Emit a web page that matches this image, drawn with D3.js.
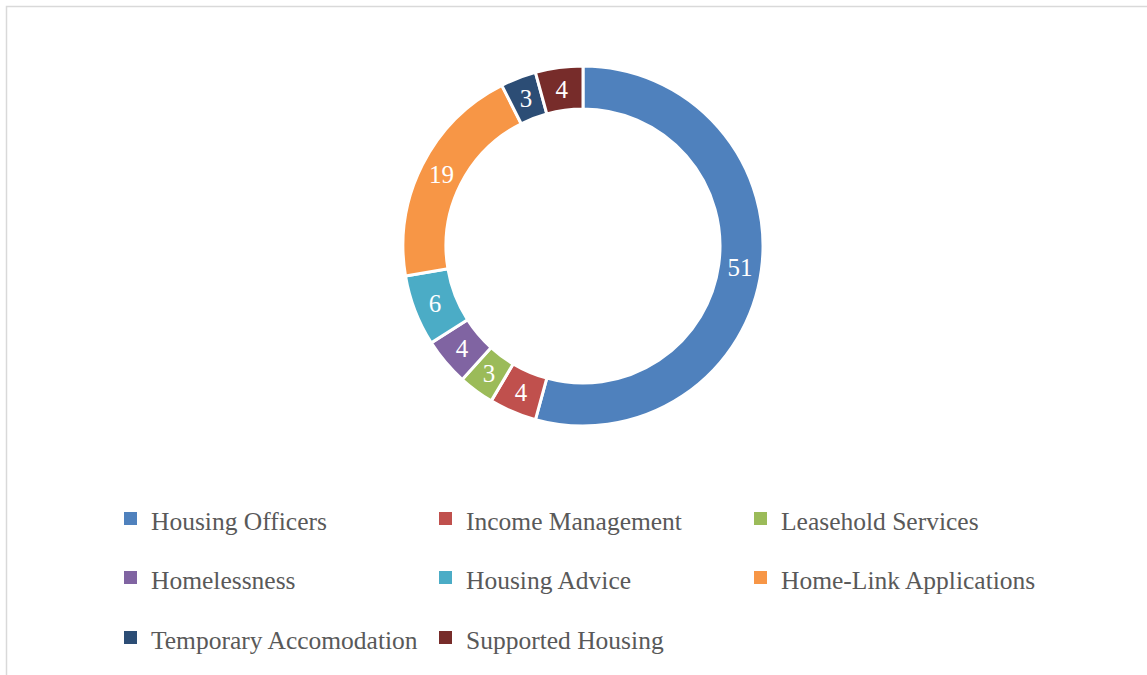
<!DOCTYPE html>
<html>
<head>
<meta charset="utf-8">
<script src="https://cdn.jsdelivr.net/npm/d3@7"></script>
<style>
  html, body { margin: 0; padding: 0; background: #fff; overflow: hidden; }
  svg { display: block; }
</style>
</head>
<body>
<svg id="chart" width="1147" height="675"></svg>
<script>
// categories and values
const categories = ['Housing Officers', 'Income Management', 'Leasehold Services',
    'Homelessness', 'Housing Advice', 'Home-Link Applications',
    'Temporary Accomodation', 'Supported Housing'];
const values = [51, 4, 3, 4, 6, 19, 3, 4];
const colours = ['#4f81bd', '#c0504d', '#9bbb59', '#8064a2', '#4bacc6', '#f79646', '#2c4d75', '#772c2a'];

const width = 1147, height = 675;
const cx = 583, cy = 246;
const outerR = 180, innerR = 137;

const svg = d3.select('#chart');

// cadre du graphique (coupé à droite et en bas)
svg.append('rect')
    .attr('x', 6.5).attr('y', 6.5)
    .attr('width', 1200).attr('height', 700)
    .attr('fill', 'none')
    .attr('stroke', '#d9d9d9')
    .attr('stroke-width', 1.5);

const colour = d3.scaleOrdinal().domain(categories).range(colours);

const data = categories.map((c, i) => ({ name: c, value: values[i] }));

const pie = d3.pie().value(d => d.value).sort(null);
const arc = d3.arc().innerRadius(innerR).outerRadius(outerR);
const labelArc = d3.arc().innerRadius((innerR + outerR) / 2).outerRadius((innerR + outerR) / 2);

const g = svg.append('g').attr('transform', `translate(${cx},${cy})`);

const arcs = pie(data);

g.selectAll('path')
    .data(arcs)
    .join('path')
    .attr('d', arc)
    .attr('fill', d => colour(d.data.name))
    .attr('stroke', '#fff')
    .attr('stroke-width', 3);

g.selectAll('text')
    .data(arcs)
    .join('text')
    .attr('transform', d => `translate(${labelArc.centroid(d)})`)
    .attr('text-anchor', 'middle')
    .attr('dy', '0.35em')
    .attr('fill', '#fff')
    .style('font-family', '"Liberation Serif", serif')
    .style('font-size', '25px')
    .text(d => d.data.value);

// légende : 3 colonnes
const legendX = [124, 439, 754];
const legendY = [521, 580, 640];

const legend = svg.append('g')
    .selectAll('g')
    .data(data)
    .join('g')
    .attr('transform', (d, i) => `translate(${legendX[i % 3]},${legendY[Math.floor(i / 3)]})`);

legend.append('rect')
    .attr('x', 0).attr('y', -9)
    .attr('width', 13).attr('height', 13)
    .attr('fill', d => colour(d.name));

legend.append('text')
    .attr('x', 27)
    .attr('dy', '0.35em')
    .attr('fill', '#595959')
    .style('font-family', '"Liberation Serif", serif')
    .style('font-size', '25.5px')
    .text(d => d.name);
</script>
</body>
</html>
